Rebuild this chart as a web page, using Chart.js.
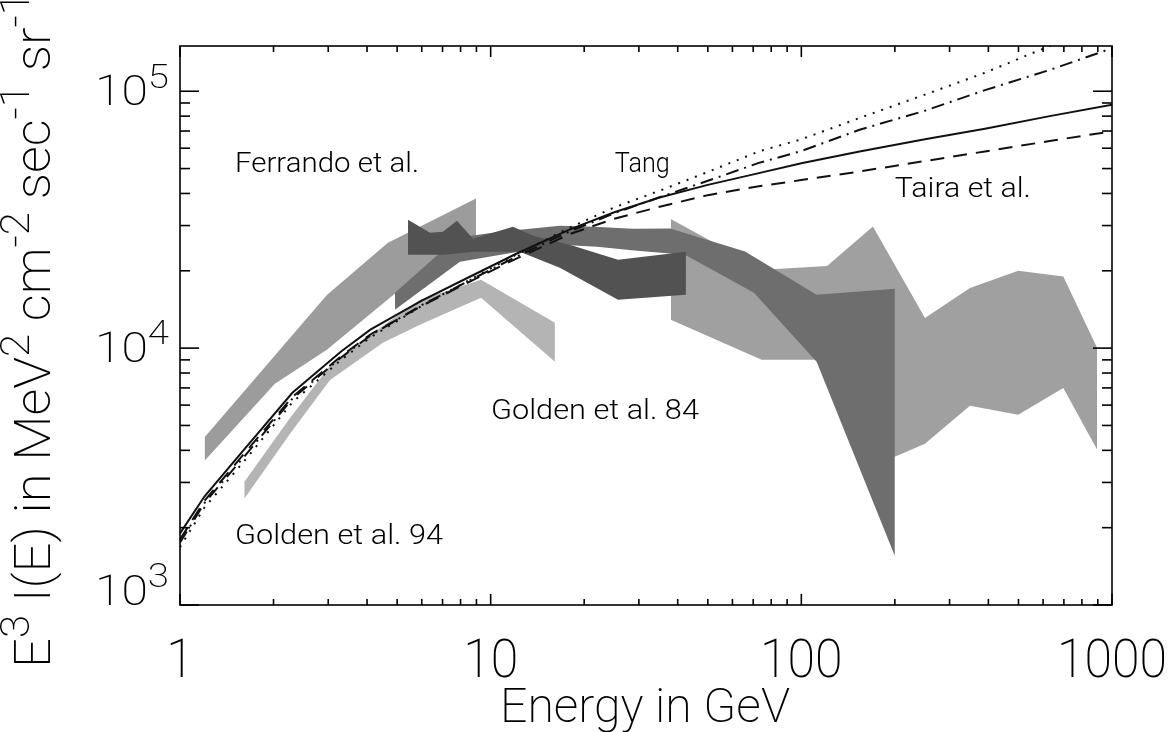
<!DOCTYPE html>
<html>
<head>
<meta charset="utf-8">
<script src="https://cdn.jsdelivr.net/npm/chart.js@4.4.0/dist/chart.umd.min.js"></script>
<style>
  html, body { margin: 0; padding: 0; background: #fff; }
  #wrap { width: 1172px; height: 732px; position: relative; }
</style>
</head>
<body>
<div id="wrap"><canvas id="chart"></canvas></div>
<script>
// --- model curves (energy in GeV, E^3 I(E)) ---
const curveEnergy  = [1, 1.2, 1.6, 2.3, 3.3, 4.1, 6, 8.6, 12, 18, 25, 35, 50, 73, 100, 154, 250, 390, 630, 1000];
const solidCurve   = [1900, 2650, 4000, 6700, 9700, 11800, 15300, 19000, 23200, 29000, 33800, 38600, 43200, 48000, 52400, 58300, 65000, 71500, 80000, 88700];
const dashedCurve  = [1800, 2550, 3850, 6450, 9300, 11300, 14600, 18200, 22200, 27800, 31900, 35500, 39400, 42700, 45100, 48700, 53500, 58300, 64000, 69800];
const dashDotCurve = [1750, 2500, 3750, 6350, 9200, 11200, 14700, 18400, 22600, 28500, 33500, 38700, 44800, 52600, 58500, 70800, 84000, 101000, 121000, 147000];
const dottedCurve  = [1680, 2400, 3600, 6150, 9000, 11000, 14600, 18500, 23000, 29500, 35300, 41000, 48500, 58300, 65000, 78700, 97000, 118000, 150000, 185000];

// --- measurement bands: upper / lower edges ---
const ferrandoUpperE = [1.2, 2.97, 4.67, 8.97];
const ferrandoUpper  = [4500, 16100, 25700, 38200];
const ferrandoLowerE = [1.2, 2.02, 2.97, 5.22, 8.97];
const ferrandoLower  = [3640, 7260, 9850, 17300, 24200];

const golden94E     = [1.61, 2.26, 3.04, 4.5, 5.92, 9.31, 16.1];
const golden94Upper = [3015, 5350, 8530, 12220, 15430, 18450, 12550];
const golden94Lower = [2590, 4640, 7520, 10490, 12330, 15700, 8850];

const golden84UpperE = [4.92, 7.79, 10.7, 16.7, 21.4, 28.7, 37.8, 65.9, 112, 200];
const golden84Upper  = [16420, 26900, 28390, 29960, 29690, 29160, 29240, 23780, 16130, 17020];
const golden84LowerE = [4.92, 7.96, 13.4, 16.7, 22.0, 29.6, 42.2, 70.4, 112, 200];
const golden84Lower  = [14100, 21690, 24150, 25260, 24810, 23930, 23090, 16420, 8850, 1550];

const darkUpperE = [5.42, 6.38, 7.02, 7.79, 8.77, 11.8, 13.7, 18.4, 25.7, 42.5];
const darkUpper  = [31610, 28130, 28390, 31320, 26660, 29690, 27390, 25030, 22080, 23720];
const darkLowerE = [5.42, 7.02, 8.9, 12.4, 16.7, 25.7, 42.5];
const darkLower  = [23090, 23090, 23720, 23720, 20550, 15430, 16130];

const tairaUpperE = [38, 75.4, 121, 170, 250, 349, 499, 697, 896];
const tairaUpper  = [31800, 20200, 20900, 29770, 13090, 17130, 20000, 19010, 10000];
const tairaLowerE = [38, 74.5, 112, 200, 250, 349, 499, 697, 896];
const tairaLower  = [12890, 9000, 9000, 3780, 4240, 5960, 5500, 6990, 4020];

// --- axes ---
const xTickValues = [1, 10, 100, 1000];
const xTickLabels = ['1', '10', '100', '1000'];
const yTickValues = [1e3, 1e4, 1e5];
const yTickExponents = ['3', '4', '5'];

const pts = (es, vs) => es.map((e, i) => ({ x: e, y: vs[i] }));

const curve = (data, dash) => ({
    data: pts(curveEnergy, data),
    borderColor: '#111',
    borderWidth: 2,
    borderDash: dash,
    pointRadius: 0,
    fill: false,
    order: 0
});

const bandEdge = (es, vs, color, isUpper, order) => ({
    data: pts(es, vs),
    borderWidth: 0,
    borderColor: 'rgba(0,0,0,0)',
    backgroundColor: color,
    pointRadius: 0,
    fill: isUpper ? '+1' : false,
    order: order
});

const datasets = [
    curve(solidCurve, []),
    curve(dashedCurve, [14, 9]),
    curve(dashDotCurve, [13, 6, 2, 6]),
    curve(dottedCurve, [2, 7]),
    bandEdge(darkUpperE, darkUpper, '#525252', true, 1),
    bandEdge(darkLowerE, darkLower, '#525252', false, 1),
    bandEdge(golden84UpperE, golden84Upper, '#6e6e6e', true, 2),
    bandEdge(golden84LowerE, golden84Lower, '#6e6e6e', false, 2),
    bandEdge(golden94E, golden94Upper, '#b4b4b4', true, 3),
    bandEdge(golden94E, golden94Lower, '#b4b4b4', false, 3),
    bandEdge(ferrandoUpperE, ferrandoUpper, '#9c9c9c', true, 4),
    bandEdge(ferrandoLowerE, ferrandoLower, '#9c9c9c', false, 4),
    bandEdge(tairaUpperE, tairaUpper, '#a0a0a0', true, 5),
    bandEdge(tairaLowerE, tairaLower, '#a0a0a0', false, 5)
];

// text labels inside the plot: text, left edge energy, baseline value, width
const notes = [
    ['Ferrando et al.', 1.503, 48500, 184],
    ['Tang', 25.1, 48500, 55],
    ['Taira et al.', 200, 38800, 136],
    ['Golden et al. 84', 10.02, 5300, 208],
    ['Golden et al. 94', 1.503, 1730, 208]
];

const fontFor = (s, w) => `${w} ${s}px Roboto, "DejaVu Sans", sans-serif`;

// draw a list of [text, isSuperscript] parts, squeezed to a given width
function drawParts(ctx, parts, size, targetWidth, weight) {
    const supSize = size * 0.8;
    let w = 0;
    parts.forEach(([t, sup]) => {
        ctx.font = fontFor(sup ? supSize : size, weight);
        w += ctx.measureText(t).width;
    });
    const sx = targetWidth ? targetWidth / w : 1;
    ctx.scale(sx, 1);
    let cx = 0;
    parts.forEach(([t, sup]) => {
        ctx.font = fontFor(sup ? supSize : size, weight);
        ctx.fillText(t, cx, sup ? -size * 0.42 : 0);
        cx += ctx.measureText(t).width;
    });
}

const framePlugin = {
    id: 'frame',
    afterDatasetsDraw(chart) {
        const { ctx, chartArea: a, scales: { x, y } } = chart;
        ctx.save();
        ctx.strokeStyle = '#000';
        ctx.fillStyle = '#000';
        ctx.lineWidth = 1.6;
        ctx.strokeRect(a.left, a.top, a.right - a.left, a.bottom - a.top);

        const seg = (x1, y1, x2, y2) => {
            ctx.beginPath(); ctx.moveTo(x1, y1); ctx.lineTo(x2, y2); ctx.stroke();
        };
        // inward ticks, x axis
        for (let d = 1; d <= 1000; d *= 10) {
            for (let m = 1; m <= 9; m++) {
                const v = d * m;
                if (v > 1000) continue;
                const px = x.getPixelForValue(v);
                const len = m === 1 ? 11 : 6;
                seg(px, a.bottom, px, a.bottom - len);
                seg(px, a.top, px, a.top + len);
            }
        }
        // inward ticks, y axis
        for (let d = 1000; d <= 1e5; d *= 10) {
            for (let m = 1; m <= 9; m++) {
                const v = d * m;
                if (v > 150000) continue;
                const py = y.getPixelForValue(v);
                const len = m === 1 ? 19 : 10;
                seg(a.left, py, a.left + len, py);
                seg(a.right, py, a.right - len, py);
            }
        }

        ctx.textBaseline = 'alphabetic';
        // x tick labels
        xTickValues.forEach((v, i) => {
            const px = x.getPixelForValue(v);
            const tw = 27.5 * xTickLabels[i].length;
            ctx.save();
            ctx.translate(px - tw / 2, 677);
            drawParts(ctx, [[xTickLabels[i], false]], 54, tw, 200);
            ctx.restore();
        });
        // y tick labels 10^n
        yTickValues.forEach((v, i) => {
            const py = y.getPixelForValue(v);
            ctx.save();
            ctx.translate(95, Math.min(py + 14, a.bottom));
            drawParts(ctx, [['10', false], [yTickExponents[i], true]], 42, 74, 200);
            ctx.restore();
        });

        // axis titles
        ctx.save();
        ctx.translate(500, 722);
        drawParts(ctx, [['Energy in GeV', false]], 48, 290, 200);
        ctx.restore();

        ctx.save();
        ctx.translate(50, 668);
        ctx.rotate(-Math.PI / 2);
        drawParts(ctx, [['E', false], ['3', true], [' I(E) in MeV', false], ['2', true],
            [' cm', false], ['-2', true], [' sec', false], ['-1', true], [' sr', false], ['-1', true]], 50, 676, 200);
        ctx.restore();

        // in-plot labels
        notes.forEach(([text, e, val, tw]) => {
            ctx.save();
            ctx.translate(x.getPixelForValue(e), y.getPixelForValue(val));
            drawParts(ctx, [[text, false]], 28, tw, 300);
            ctx.restore();
        });
        ctx.restore();
    }
};

new Chart(document.getElementById('chart'), {
    type: 'line',
    data: { datasets: datasets },
    options: {
        responsive: true,
        maintainAspectRatio: false,
        animation: false,
        layout: { padding: { left: 180, right: 60, top: 46, bottom: 127 } },
        plugins: { legend: { display: false }, tooltip: { enabled: false } },
        elements: { line: { tension: 0 } },
        scales: {
            x: { type: 'logarithmic', min: 1, max: 1000, display: false },
            y: { type: 'logarithmic', min: 1000, max: 150000, display: false }
        }
    },
    plugins: [framePlugin]
});
</script>
</body>
</html>
